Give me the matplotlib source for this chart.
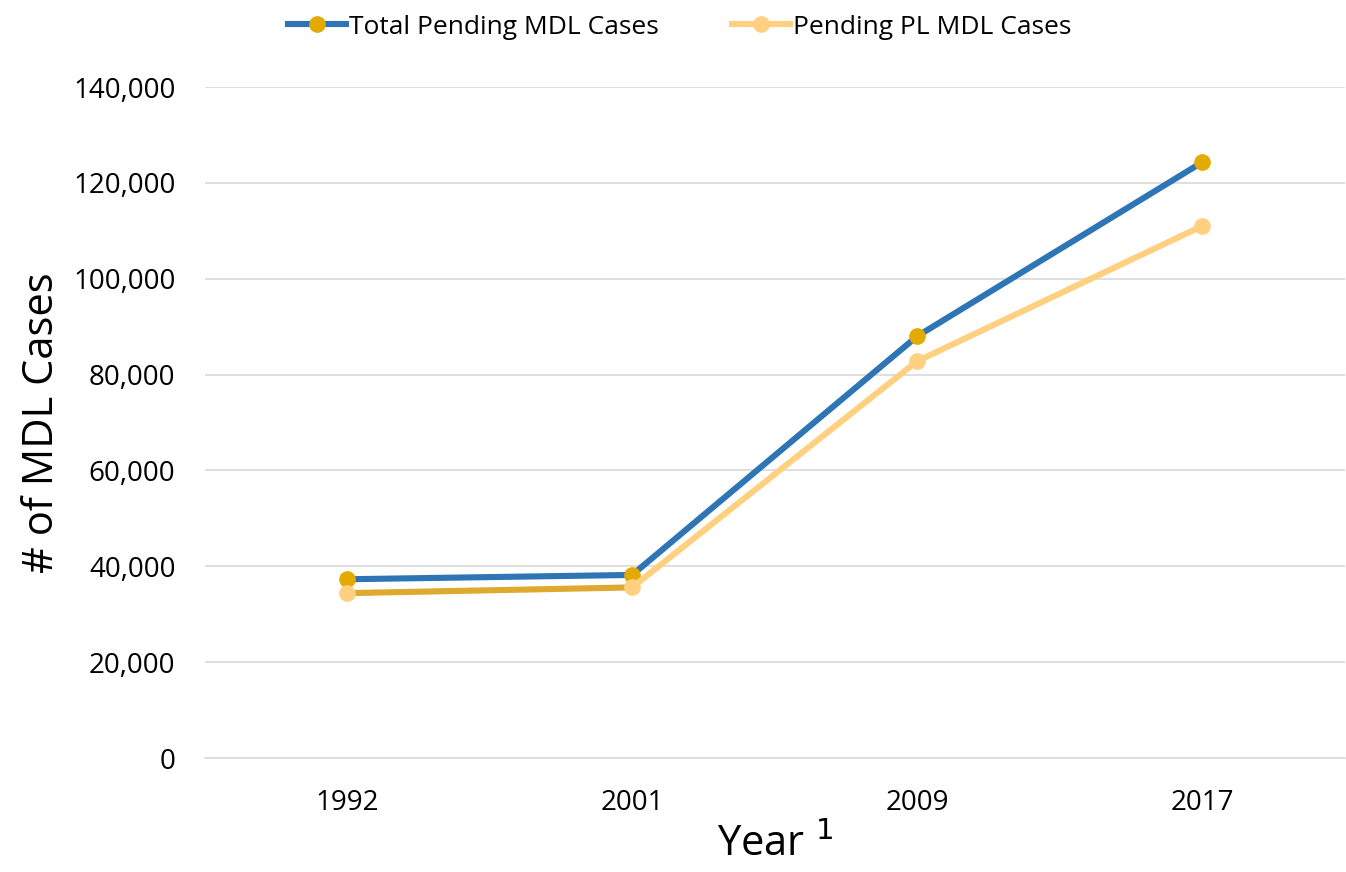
import matplotlib.pyplot as plt
from matplotlib.ticker import FuncFormatter

years = ["1992", "2001", "2009", "2017"]
total_pending = [37300, 38200, 88000, 124300]
pl_pending = [34400, 35600, 82800, 111000]

blue = "#2E75B6"
gold = "#E3AA00"
light = "#FFD07F"
gold_seg = "#DFA82E"

plt.rcParams['font.family'] = ['Open Sans', 'DejaVu Sans']

fig = plt.figure(figsize=(13.46, 8.72), dpi=100)
ax = fig.add_axes([0.152, 0.1307, 0.847, 0.7695])

x = list(range(len(years)))

ax.plot(x, total_pending, color=blue, lw=4.4, marker='o', ms=11,
        mfc=gold, mec=gold, label="Total Pending MDL Cases", zorder=3)
# PL line: first segment drawn in a darker gold
ax.plot(x[1:], pl_pending[1:], color=light, lw=4.4, zorder=4)
ax.plot(x[:2], pl_pending[:2], color=gold_seg, lw=4.4, zorder=4)
ax.plot(x, pl_pending, color=light, lw=0, marker='o', ms=11,
        mfc=light, mec=light, zorder=5)
ax.plot([], [], color=light, lw=4.4, marker='o', ms=11, mfc=light, mec=light,
        label="Pending PL MDL Cases")

ax.set_xlim(-0.5, len(years) - 0.5)
ax.set_ylim(0, 140000)
ax.set_yticks(range(0, 140001, 20000))
ax.yaxis.set_major_formatter(FuncFormatter(lambda v, p: f"{int(v):,}"))
ax.set_xticks(x)
ax.set_xticklabels(years)
ax.tick_params(length=0, labelsize=20)
ax.tick_params(axis='y', pad=21)
ax.tick_params(axis='x', pad=22)
ax.grid(axis='y', color='#D9D9D9', lw=1.2)
ax.set_axisbelow(True)
for s in ['top', 'right', 'left']:
    ax.spines[s].set_visible(False)
ax.spines['bottom'].set_color('#D9D9D9')
ax.spines['bottom'].set_linewidth(1.2)

ax.set_ylabel("# of MDL Cases", fontsize=30, labelpad=7)
ax.set_xlabel("Year $^{1}$", fontsize=30, labelpad=5)

handles, labels = ax.get_legend_handles_labels()
fig.legend(handles, labels, loc='center', bbox_to_anchor=(0.505, 0.969), ncol=2,
           frameon=False, fontsize=19, handlelength=2.2, handletextpad=0.1,
           columnspacing=2.8)

fig.savefig("out.png", dpi=100)
